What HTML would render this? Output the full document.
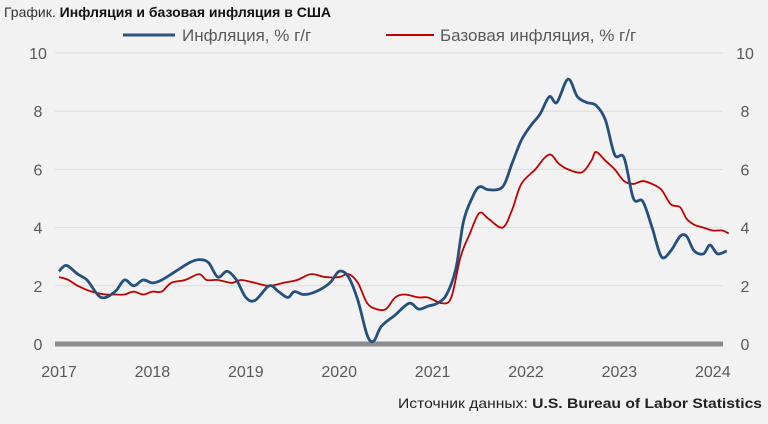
<!DOCTYPE html>
<html><head><meta charset="utf-8"><style>
body{margin:0;background:#f2f2f2;width:768px;height:419px;overflow:hidden;font-family:"Liberation Sans","DejaVu Sans",sans-serif}
</style></head><body>
<svg id="s" width="768" height="419" xmlns="http://www.w3.org/2000/svg" font-family="Liberation Sans, DejaVu Sans, sans-serif">
<text x="4" y="17" font-size="14" fill="#333">График. <tspan font-weight="bold" fill="#111">Инфляция и базовая инфляция в США</tspan></text>
<line x1="123" y1="35" x2="175" y2="35" stroke="#2a5380" stroke-width="3"/>
<text x="182" y="41" font-size="17" fill="#595959">Инфляция, % г/г</text>
<line x1="386" y1="35" x2="434" y2="35" stroke="#c00000" stroke-width="2"/>
<text x="440" y="41" font-size="17" fill="#595959">Базовая инфляция, % г/г</text>
<g id="grid"></g>
<g font-size="16" fill="#595959" id="lbl"></g>
<text x="762" y="408" font-size="14" fill="#222" text-anchor="end" textLength="364" lengthAdjust="spacingAndGlyphs">Источник данных: <tspan font-weight="bold">U.S. Bureau of Labor Statistics</tspan></text>
</svg>
<script>
const NS="http://www.w3.org/2000/svg",s=document.getElementById('s');
const X=t=>59+93.4*(t-2017),Y=v=>344-29.1*v;
function el(n,a,p){const e=document.createElementNS(NS,n);for(const k in a)e.setAttribute(k,a[k]);(p||s).appendChild(e);return e}
const g=document.getElementById('grid'),l=document.getElementById('lbl');
for(let v=2;v<=10;v+=2){el('line',{x1:55,x2:723,y1:Y(v),y2:Y(v),stroke:'#dcdcdc','stroke-width':1},g);}
for(let v=0;v<=10;v+=2){let t=el('text',{x:38,y:Y(v)+6,'text-anchor':'middle'},l);t.textContent=v;t=el('text',{x:745,y:Y(v)+6,'text-anchor':'middle'},l);t.textContent=v;}
for(let y=2017;y<=2024;y++){let t=el('text',{x:X(y),y:377,'text-anchor':'middle'},l);t.textContent=y;}
function path(d){const p=d.map(a=>[X(a[0]),Y(a[1])]);let s='M'+p[0];for(let i=0;i<p.length-1;i++){const a=p[i-1]||p[i],b=p[i],c=p[i+1],e=p[i+2]||c;s+=`C${b[0]+(c[0]-a[0])/6},${b[1]+(c[1]-a[1])/6} ${c[0]-(e[0]-b[0])/6},${c[1]-(e[1]-b[1])/6} ${c[0]},${c[1]}`}return s}
const red=[[2017,2.3],[2017.1,2.2],[2017.2,2],[2017.35,1.8],[2017.5,1.7],[2017.6,1.7],[2017.7,1.7],[2017.8,1.8],[2017.9,1.7],[2018,1.8],[2018.1,1.8],[2018.2,2.1],[2018.35,2.2],[2018.5,2.4],[2018.58,2.2],[2018.7,2.2],[2018.85,2.1],[2018.95,2.2],[2019.1,2.1],[2019.25,2],[2019.4,2.1],[2019.55,2.2],[2019.7,2.4],[2019.85,2.3],[2020,2.3],[2020.1,2.4],[2020.2,2.1],[2020.3,1.4],[2020.4,1.2],[2020.5,1.2],[2020.6,1.6],[2020.7,1.7],[2020.85,1.6],[2020.95,1.6],[2021.1,1.4],[2021.2,1.6],[2021.3,3],[2021.4,3.8],[2021.5,4.5],[2021.6,4.3],[2021.75,4],[2021.85,4.6],[2021.95,5.5],[2022.1,6],[2022.2,6.4],[2022.27,6.5],[2022.35,6.2],[2022.45,6],[2022.6,5.9],[2022.7,6.3],[2022.75,6.6],[2022.85,6.3],[2022.95,6],[2023.05,5.6],[2023.15,5.5],[2023.25,5.6],[2023.35,5.5],[2023.45,5.3],[2023.55,4.8],[2023.65,4.7],[2023.72,4.3],[2023.8,4.1],[2023.9,4],[2024,3.9],[2024.1,3.9],[2024.17,3.8]];
const blue=[[2017,2.5],[2017.08,2.7],[2017.2,2.4],[2017.3,2.2],[2017.45,1.6],[2017.6,1.8],[2017.7,2.2],[2017.8,2],[2017.9,2.2],[2018,2.1],[2018.1,2.2],[2018.25,2.5],[2018.4,2.8],[2018.5,2.9],[2018.6,2.8],[2018.7,2.3],[2018.8,2.5],[2018.9,2.2],[2019,1.6],[2019.1,1.5],[2019.25,2],[2019.35,1.8],[2019.45,1.6],[2019.52,1.8],[2019.62,1.7],[2019.75,1.8],[2019.9,2.1],[2020,2.5],[2020.1,2.3],[2020.2,1.5],[2020.3,0.3],[2020.37,0.1],[2020.45,0.6],[2020.6,1],[2020.75,1.4],[2020.85,1.2],[2020.95,1.3],[2021.05,1.4],[2021.15,1.7],[2021.25,2.6],[2021.33,4.2],[2021.42,5],[2021.5,5.4],[2021.6,5.3],[2021.75,5.4],[2021.85,6.2],[2021.95,7],[2022.05,7.5],[2022.15,7.9],[2022.25,8.5],[2022.33,8.3],[2022.45,9.1],[2022.55,8.5],[2022.65,8.3],[2022.75,8.2],[2022.85,7.7],[2022.95,6.5],[2023.05,6.4],[2023.15,5],[2023.25,4.9],[2023.35,4],[2023.45,3],[2023.55,3.2],[2023.65,3.7],[2023.72,3.7],[2023.8,3.2],[2023.9,3.1],[2023.97,3.4],[2024.05,3.1],[2024.15,3.2]];
el('line',{x1:55,x2:723,y1:344,y2:344,stroke:'#8c8c8c','stroke-width':5});
el('path',{d:path(red),fill:'none',stroke:'#c00000','stroke-width':1.8});
el('path',{d:path(blue),fill:'none',stroke:'#24507e','stroke-width':2.8});
</script>
</body></html>
